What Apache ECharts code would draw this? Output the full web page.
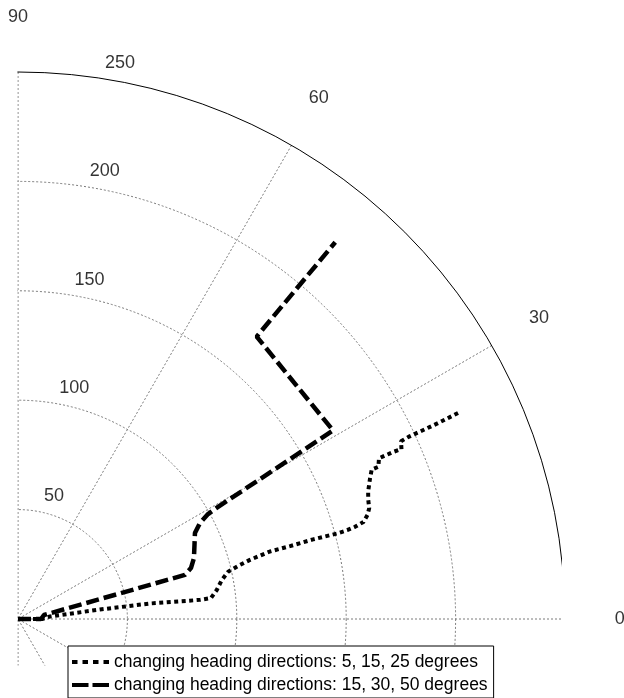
<!DOCTYPE html>
<html>
<head>
<meta charset="utf-8">
<script src="https://cdn.jsdelivr.net/npm/echarts@6/dist/echarts.min.js"></script>
<style>
  html, body { margin: 0; padding: 0; background: #fff; }
  #chart { width: 624px; height: 698px; }
</style>
</head>
<body>
<div id="chart"></div>
<script>
// Radius rings and spoke labels
const RADIUS_TICKS = [50, 100, 150, 200, 250];
const ANGLE_TICKS = [0, 30, 60, 90];

const SERIES_NAMES = [
  'changing heading directions: 5, 15, 25 degrees',
  'changing heading directions: 15, 30, 50 degrees'
];

// Track 1 (headings 5, 15, 25 degrees): radius and polar angle (deg)
const dottedRadius = [0, 11.0, 14.7, 37.7, 60.7, 83.6, 88.7, 91.8, 94.8, 98.5,
  104.4, 109.4, 119.2, 128.7, 139.7, 151.0, 155.8, 159.7, 164.0, 166.7,
  168.3, 169.1, 170.3, 173.3, 175.5, 178.8, 180.6, 184.4, 187.8, 191.7,
  193.0, 196.9, 211.5, 223.1];
const dottedAngle = [0, 0, 4.5, 6.6, 6.7, 6.0, 6.2, 8.3, 10.8, 12.7,
  13.7, 14.3, 15.0, 15.0, 15.1, 15.0, 15.1, 15.3, 15.7, 16.6,
  17.5, 18.8, 20.0, 21.8, 22.9, 22.9, 24.0, 24.0, 24.0, 23.9,
  24.9, 25.0, 25.0, 25.1];

// Track 2 (headings 15, 30, 50 degrees)
const dashedRadius = [0, 10.5, 12.0, 78.9, 82.4, 85.1, 87.5, 89.9, 94.0, 99.2,
  103.6, 167.8, 169.0, 225.1];
const dashedAngle = [0, 0, 8.7, 14.8, 16.4, 19.1, 22.8, 25.9, 27.8, 28.9,
  29.2, 30.9, 49.8, 49.9];

const R_MAX = 250;
const R_STEP = 50;
const FONT = '"Liberation Sans", Arial, Helvetica, sans-serif';
const TICK_FONT_SIZE = 18;
const LEGEND_FONT_SIZE = 17.5;
const LABEL_SPOKE = 82;            // ring values sit just outside each ring on this spoke
const SPOKE_LABEL_R = 1.1 * R_MAX; // ring carrying the spoke angles

const zip = (r, a) => r.map((v, i) => [v, a[i]]);

const chart = echarts.init(document.getElementById('chart'), null, { renderer: 'canvas' });

const gridGray = '#7a7a7a';
const ringColors = RADIUS_TICKS.map((v) => (v === R_MAX ? 'rgba(0,0,0,0)' : gridGray));
ringColors.unshift(gridGray);

const hiddenMarker = { color: 'rgba(0,0,0,0)', borderWidth: 0, opacity: 0 };

const option = {
  animation: false,
  backgroundColor: '#fff',
  polar: { center: [18, 619], radius: 547 },
  angleAxis: {
    type: 'value', min: 0, max: 360, interval: 30,
    startAngle: 0, clockwise: false,
    axisLine: { show: true, lineStyle: { color: '#000', width: 1 } },
    axisTick: { show: false },
    axisLabel: { show: false },
    splitLine: { show: true, lineStyle: { color: gridGray, width: 1, type: [2, 2] } }
  },
  radiusAxis: {
    type: 'value', min: 0, max: R_MAX, interval: R_STEP,
    axisLine: { show: false },
    axisTick: { show: false },
    axisLabel: { show: false },
    splitLine: { show: true, lineStyle: { color: ringColors, width: 1, type: [2, 2] } }
  },
  legend: {
    orient: 'vertical',
    left: 68, top: 646,
    width: 520, height: 200,
    padding: [7, 6, 4, 2],
    itemGap: 5,
    itemWidth: 37, itemHeight: 14,
    borderColor: '#000', borderWidth: 1, borderRadius: 0,
    backgroundColor: '#fff',
    selectedMode: false,
    z: 30,
    textStyle: { fontFamily: FONT, fontSize: LEGEND_FONT_SIZE, color: '#000' },
    data: [
      { name: SERIES_NAMES[0], itemStyle: hiddenMarker, lineStyle: { width: 4, type: [5.5, 5], color: '#000' } },
      { name: SERIES_NAMES[1], itemStyle: hiddenMarker, lineStyle: { width: 4, type: [16.5, 4], color: '#000' } }
    ]
  },
  graphic: {
    elements: [
      { type: 'rect', silent: true, z: 10, shape: { x: 0, y: 0, width: 17.4, height: 698 }, style: { fill: '#fff' } },
      { type: 'rect', silent: true, z: 10, shape: { x: 562, y: 0, width: 62, height: 698 }, style: { fill: '#fff' } },
      { type: 'rect', silent: true, z: 10, shape: { x: 0, y: 665.5, width: 624, height: 33 }, style: { fill: '#fff' } }
    ]
  },
  series: [
    {
      name: SERIES_NAMES[0],
      type: 'line',
      coordinateSystem: 'polar',
      data: zip(dottedRadius, dottedAngle),
      symbol: 'none',
      z: 3,
      itemStyle: { color: '#000' },
      lineStyle: { color: '#000', width: 4, type: [4, 3.5], cap: 'butt' }
    },
    {
      name: SERIES_NAMES[1],
      type: 'line',
      coordinateSystem: 'polar',
      data: zip(dashedRadius, dashedAngle),
      symbol: 'none',
      z: 3,
      itemStyle: { color: '#000' },
      lineStyle: { color: '#000', width: 4.5, type: [13, 5], cap: 'butt' }
    },
    {
      // ring values
      type: 'scatter',
      coordinateSystem: 'polar',
      silent: true,
      clip: false,
      z: 20,
      symbolSize: 0,
      data: RADIUS_TICKS.map((v) => ({ name: String(v), value: [v + R_STEP / 20, LABEL_SPOKE] })),
      label: {
        show: true, position: [0, 0], align: 'left', verticalAlign: 'bottom',
        formatter: '  {b}', fontFamily: FONT, fontSize: TICK_FONT_SIZE, color: '#000'
      }
    },
    {
      // spoke angles
      type: 'scatter',
      coordinateSystem: 'polar',
      silent: true,
      clip: false,
      z: 20,
      symbolSize: 0,
      data: ANGLE_TICKS.map((a) => ({ name: String(a), value: [SPOKE_LABEL_R, a] })),
      label: {
        show: true, position: 'inside', align: 'center', verticalAlign: 'middle',
        formatter: '{b}', fontFamily: FONT, fontSize: TICK_FONT_SIZE, color: '#000'
      }
    }
  ]
};

chart.setOption(option);
</script>
</body>
</html>
